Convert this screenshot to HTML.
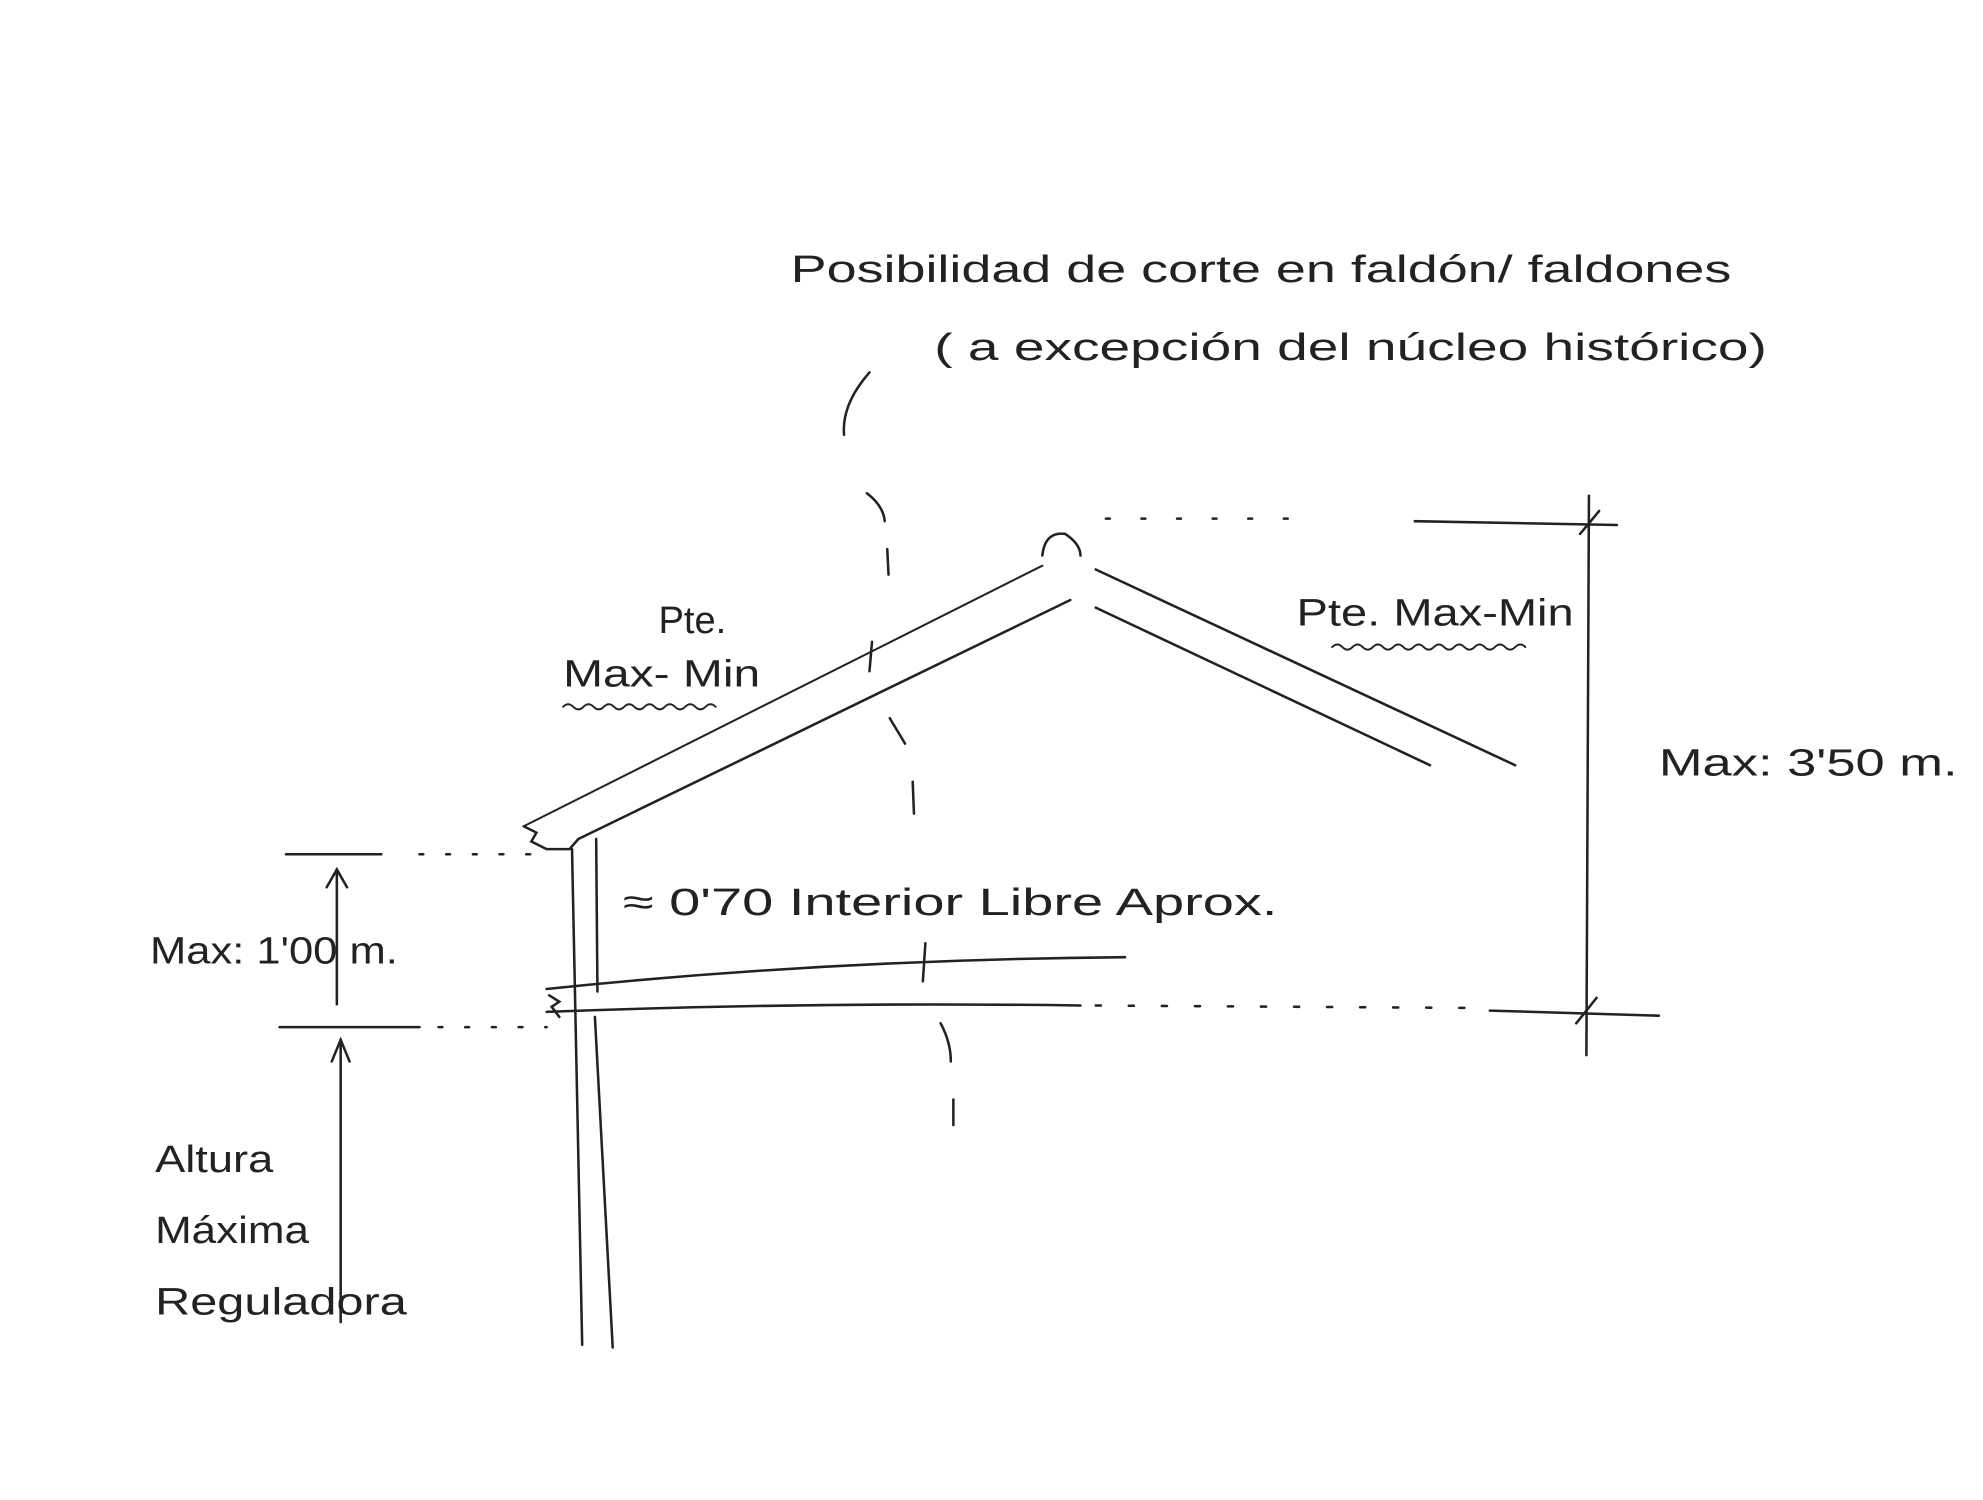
<!DOCTYPE html>
<html><head><meta charset="utf-8"><style>
html,body{margin:0;padding:0;background:#fff;}
svg{display:block;}
text{font-family:"Liberation Sans",sans-serif;fill:#222;}
</style></head><body>
<svg width="1983" height="1500" viewBox="0 0 1560 1180" xmlns="http://www.w3.org/2000/svg">
<rect width="1560" height="1180" fill="#fff"/>
<g stroke="#222" stroke-width="2" fill="none" stroke-linecap="round">
<path d="M684 293 Q662 318 664 342" />
<path d="M682 388 Q695 398 696 410"/>
<path d="M698 432 L699 452"/>
<path d="M686 505 L684 528"/>
<path d="M700 565 L712 585"/>
<path d="M718 615 L719 640"/>
<path d="M728 742 L726 772"/>
<path d="M740 805 Q748 820 748 835"/>
<path d="M750 865 L750 885"/>
<path d="M412 650 L820 445" stroke-width="1.6"/>
<path d="M455 660 L842 472"/>
<path d="M820 437 Q822 418 838 420 Q850 428 850 437"/>
<path d="M862 448 L1192 602"/>
<path d="M862 478 L1125 602"/>
<path d="M412 650 L422 655 L418 662 L430 668 L448 668 L455 660"/>
<path d="M870 408 L1030 408" stroke-dasharray="3 25"/>
<path d="M1113 410 L1272 413"/>
<path d="M1250 390 L1248 830"/>
<path d="M1243 420 L1258 402"/>
<path d="M1240 805 L1256 785"/>
<path d="M1172 795 L1305 799"/>
<path d="M450 668 L458 1058"/>
<path d="M469 660 L470 780"/>
<path d="M468 800 L482 1060"/>
<path d="M430 778 Q650 755 885 753"/>
<path d="M430 796 Q640 788 850 791"/>
<path d="M862 791 L1170 793" stroke-dasharray="4 22"/>
<path d="M432 783 L440 788 L434 792 L440 800"/>
<path d="M225 672 L300 672"/>
<path d="M330 672 L420 672" stroke-dasharray="3 18"/>
<path d="M265 790 L265 684"/>
<path d="M257 698 L265 684 L273 698"/>
<path d="M220 808 L330 808"/>
<path d="M345 808 L430 808" stroke-dasharray="3 18"/>
<path d="M268 1040 L268 818"/>
<path d="M261 835 L268 818 L275 835"/>
<path d="M443 556 q4 -4 8 0 t8 0 t8 0 t8 0 t8 0 t8 0 t8 0 t8 0 t8 0 t8 0 t8 0 t8 0 t8 0 t8 0 t8 0" stroke-width="1.5"/>
<path d="M1048 509 q4 -4 8 0 t8 0 t8 0 t8 0 t8 0 t8 0 t8 0 t8 0 t8 0 t8 0 t8 0 t8 0 t8 0 t8 0 t8 0 t8 0 t8 0 t8 0 t8 0" stroke-width="1.5"/>
</g>
<g font-size="30">
<text x="622" y="222" textLength="740" lengthAdjust="spacingAndGlyphs">Posibilidad de corte en faldón/ faldones</text>
<text x="735" y="283" textLength="655" lengthAdjust="spacingAndGlyphs">( a excepción del núcleo histórico)</text>
<text x="518" y="498">Pte.</text>
<text x="443" y="540" textLength="155" lengthAdjust="spacingAndGlyphs">Max- Min</text>
<text x="1020" y="492" textLength="218" lengthAdjust="spacingAndGlyphs">Pte. Max-Min</text>
<text x="1305" y="610" textLength="235" lengthAdjust="spacingAndGlyphs">Max: 3'50 m.</text>
<text x="118" y="758" textLength="195" lengthAdjust="spacingAndGlyphs">Max: 1'00 m.</text>
<text x="490" y="720" textLength="515" lengthAdjust="spacingAndGlyphs">≈ 0'70 Interior Libre  Aprox.</text>
<text x="122" y="922" textLength="93" lengthAdjust="spacingAndGlyphs">Altura</text>
<text x="122" y="978" textLength="121" lengthAdjust="spacingAndGlyphs">Máxima</text>
<text x="122" y="1034" textLength="198" lengthAdjust="spacingAndGlyphs">Reguladora</text>
</g>
</svg>
</body></html>
